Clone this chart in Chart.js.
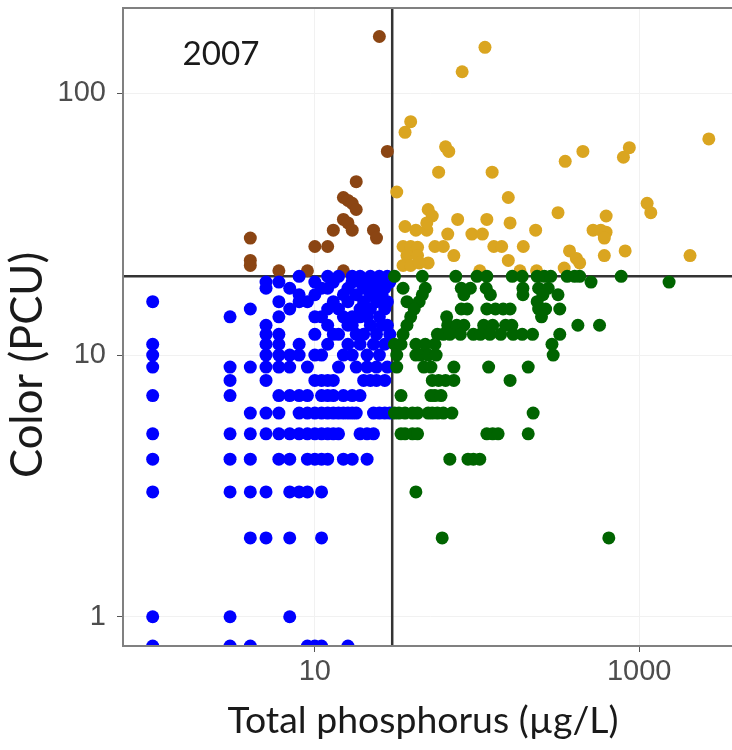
<!DOCTYPE html>
<html lang="en">
<head>
  <meta charset="UTF-8">
  <title>Colour vs Total phosphorus, 2007</title>
  <script src="https://cdn.jsdelivr.net/npm/chart.js"></script>
  <style>
    html, body {
      margin: 0;
      padding: 0;
      background: #fff;
      overflow: hidden;
    }
    #wrap {
      width: 745px;
      height: 750px;
    }
  </style>
</head>
<body>

  <div id="wrap">
    <canvas id="tpColorChart" width="745" height="750"></canvas>
  </div>

  <script>
    // axis setup (log10 on both axes)
    const xTickValues = [10, 1000];
    const yTickValues = [1, 10, 100];
    const xLimits = [0.656, 4100];
    const yLimits = [0.773, 212];
    const tpThreshold = 30;      // ug/L
    const colorThreshold = 20;   // PCU
    const panelLabel = '2007';

    // lakes as [total phosphorus, colour]; colour 0 sits on the axis floor
    const blueLakes = [
      [1,0],[3,0],[4,0],[9,0],[10,0],[11,0],[16,0],
      [1,1],[3,1],[7,1],
      [4,2],[5,2],[7,2],[11,2],
      [1,3],[3,3],[4,3],[5,3],[7,3],[8,3],[9,3],[11,3],
      [1,4],[3,4],[4,4],[6,4],[7,4],[9,4],[10,4],[11,4],[12,4],[15,4],[17,4],[21,4],
      [1,5],[3,5],[4,5],[5,5],[6,5],[7,5],[8,5],[9,5],[10,5],[11,5],[12,5],[13,5],[14,5],[19,5],[21,5],[23,5],
      [4,6],[5,6],[6,6],[8,6],[9,6],[10,6],[11,6],[12,6],[13,6],[14,6],[15,6],[16,6],[17,6],[18,6],[23,6],[25,6],[27,6],[29,6],
      [1,7],[3,7],[6,7],[7,7],[8,7],[9,7],[11,7],[12,7],[13,7],[15,7],[17,7],[19,7],
      [3,8],[5,8],[10,8],[11,8],[12,8],[13,8],[20,8],[22,8],[24,8],[27,8],
      [1,9],[3,9],[4,9],[5,9],[6,9],[7,9],[9,9],[14,9],[18,9],[21,9],[24,9],[28,9],
      [1,10],[5,10],[6,10],[7,10],[8,10],[10,10],[11,10],[15,10],[17,10],[21,10],[25,10],
      [1,11],[5,11],[6,11],[8,11],[12,11],[16,11],[19,11],[23,11],[27,11],
      [5,12],[6,12],[10,12],[13,12],[14,12],[18,12],[20,12],[24,12],[29,12],
      [5,13],[12,13],[16,13],[17,13],[22,13],[26,13],[28,13],
      [3,14],[6,14],[10,14],[11,14],[15,14],[17,14],[19,14],[21,14],[25,14],
      [4,15],[7,15],[12,15],[14,15],[19,15],[22,15],[27,15],
      [1,16],[6,16],[8,16],[9,16],[13,16],[16,16],[20,16],[24,16],[28,16],
      [8,17],[10,17],[15,17],[18,17],[22,17],[26,17],
      [5,18],[7,18],[11,18],[12,18],[16,18],[20,18],[23,18],[27,18],
      [5,19],[6,19],[10,19],[13,19],[17,19],[19,19],[21,19],[25,19],[29,19],
      [8,20],[12,20],[14,20],[17,20],[19,20],[22,20],[25,20],[28,20]
    ];

    const greenLakes = [
      [31,20],[46,20],[74,20],[100,20],[115,20],[165,20],[190,20],[235,20],[260,20],[285,20],[360,20],[400,20],[430,20],[775,20],
      [505,19],[1530,19],
      [35,18],[48,18],[80,18],[91,18],[114,18],[192,18],[240,18],[275,18],
      [46,17],[83,17],[121,17],[192,17],[255,17],[316,17],
      [37,16],[44,16],[235,16],
      [41,15],[80,15],[87,15],[115,15],[130,15],[145,15],[160,15],[240,15],[265,15],[324,15],
      [39,14],[65,14],[250,14],
      [37,13],[66,13],[75,13],[83,13],[110,13],[125,13],[150,13],[164,13],[419,13],[570,13],
      [35,12],[57,12],[62,12],[68,12],[79,12],[95,12],[105,12],[120,12],[140,12],[167,12],[190,12],[220,12],[324,12],
      [31,11],[34,11],[42,11],[48,11],[55,11],[290,11],
      [32,10],[42,10],[45,10],[50,10],[56,10],[295,10],
      [32,9],[47,9],[52,9],[72,9],[118,9],[207,9],
      [53,8],[58,8],[64,8],[72,8],[160,8],
      [34,7],[52,7],[55,7],[60,7],
      [31,6],[33,6],[36,6],[40,6],[43,6],[50,6],[53,6],[57,6],[62,6],[70,6],[222,6],
      [34,5],[36,5],[40,5],[43,5],[115,5],[125,5],[135,5],[207,5],
      [68,4],[88,4],[95,4],[104,4],
      [42,3],
      [61,2],[650,2]
    ];

    const brownLakes = [
      [25,165],[28,60],[18,46],[15,40],[16,39],[17,38],[18,36],[15,33],[16,32],
      [13,30],[17,30],[23,30],[24,28],[10,26],[12,26],[4,28],[4,23],[4,22],
      [6,21],[9,21],[15,21]
    ];

    const goldLakes = [
      [112,150],[81,121],[39,78],[36,71],[64,62.5],[67,60],[58,50],[124,50],[32,42],[156,40],
      [50,36],[53,34],[76,33],[115,33],[160,32],[316,35],[626,34],[1120,38],[1180,35],
      [36,31],[42,30],[49,30],[49,32],[66,29],[93,29],[108,29],[230,30],[520,30],[580,30],[625,29.5],[610,28],
      [35,26],[39,26],[43,25.8],[55,26],[62,26],[127,26],[142,26],[193,26],
      [72,24],[37,24],[43,24],[50,22.5],[156,23],[35,22],[39,22],[44,22.5],
      [104,21],[184,21],[233,21],[345,21.5],[372,25],[410,23.4],[430,22.5],[610,24],[820,25],[2060,24],
      [2690,67],[450,60],[350,55],[870,62],[800,57]
    ];

    const toPoints = lakes => lakes.map(([tp, color]) => ({ x: tp, y: color > 0 ? color : yLimits[0] }));

    function fittedSize(ctx, text, family, width) {
      ctx.font = `100px ${family}`;
      return 100 * width / ctx.measureText(text).width;
    }

    // reference lines under the points, panel frame and labels on top
    const quadrantLines = {
      id: 'quadrantLines',
      beforeDatasetsDraw(chart) {
        const { ctx, chartArea: a, scales } = chart;
        const xp = scales.x.getPixelForValue(tpThreshold);
        const yp = scales.y.getPixelForValue(colorThreshold);
        ctx.save();
        ctx.strokeStyle = '#333333';
        ctx.lineWidth = 2.5;
        ctx.beginPath();
        ctx.moveTo(xp, a.top);
        ctx.lineTo(xp, a.bottom);
        ctx.moveTo(a.left, yp);
        ctx.lineTo(a.right, yp);
        ctx.stroke();
        ctx.restore();
      },
      afterDraw(chart) {
        const { ctx, chartArea: a } = chart;
        ctx.save();
        ctx.strokeStyle = '#808080';
        ctx.lineWidth = 2;
        ctx.strokeRect(a.left, a.top, a.right - a.left, a.bottom - a.top);

        ctx.fillStyle = '#1a1a1a';
        ctx.textAlign = 'center';
        ctx.textBaseline = 'middle';
        const family = 'Lato, "Open Sans", sans-serif';

        ctx.font = `${fittedSize(ctx, panelLabel, family, 77).toFixed(1)}px ${family}`;
        ctx.fillText(panelLabel, 221, 54);

        const xTitle = 'Total phosphorus (µg/L)';
        ctx.font = `${fittedSize(ctx, xTitle, family, 391).toFixed(1)}px ${family}`;
        ctx.fillText(xTitle, 423, 721);

        const yTitle = 'Color (PCU)';
        ctx.font = `${fittedSize(ctx, yTitle, family, 226).toFixed(1)}px ${family}`;
        ctx.translate(28, 365);
        ctx.rotate(-Math.PI / 2);
        ctx.fillText(yTitle, 0, 0);
        ctx.restore();
      }
    };

    const tickFont = { family: '"Liberation Sans", Arial, sans-serif', size: 29 };

    const ctx = document.getElementById('tpColorChart').getContext('2d');
    new Chart(ctx, {
      type: 'scatter',
      data: {
        datasets: [
          { label: 'Low TP, low colour', data: toPoints(blueLakes), backgroundColor: '#0000ff', order: 2 },
          { label: 'High TP, low colour', data: toPoints(greenLakes), backgroundColor: '#006400', order: 1 },
          { label: 'Low TP, high colour', data: toPoints(brownLakes), backgroundColor: '#8b4513', order: 4 },
          { label: 'High TP, high colour', data: toPoints(goldLakes), backgroundColor: '#daa520', order: 3 }
        ]
      },
      options: {
        responsive: false,
        animation: false,
        devicePixelRatio: 1,
        clip: 0,
        layout: { padding: { left: 0, top: 8, right: 5, bottom: 0 } },
        elements: {
          point: { radius: 6.5, hoverRadius: 6.5, borderWidth: 0 }
        },
        plugins: {
          legend: { display: false },
          tooltip: { enabled: false }
        },
        scales: {
          x: {
            type: 'logarithmic',
            min: xLimits[0],
            max: xLimits[1],
            afterBuildTicks: axis => { axis.ticks = xTickValues.map(v => ({ value: v })); },
            afterFit: axis => {
              axis.height = 104;
              axis.paddingLeft = 0;
              axis.paddingRight = 0;
            },
            grid: { color: '#f1f1f1', lineWidth: 1, tickLength: 6, tickColor: '#555555' },
            border: { display: false },
            ticks: {
              color: '#4d4d4d',
              font: tickFont,
              padding: 3,
              maxRotation: 0,
              autoSkip: false,
              callback: v => String(v)
            }
          },
          y: {
            type: 'logarithmic',
            min: yLimits[0],
            max: yLimits[1],
            afterBuildTicks: axis => { axis.ticks = yTickValues.map(v => ({ value: v })); },
            afterFit: axis => {
              axis.width = 123;
              axis.paddingTop = 0;
              axis.paddingBottom = 0;
            },
            grid: { color: '#f1f1f1', lineWidth: 1, tickLength: 6, tickColor: '#555555' },
            border: { display: false },
            ticks: {
              color: '#4d4d4d',
              font: tickFont,
              padding: 11,
              autoSkip: false,
              callback: v => String(v)
            }
          }
        }
      },
      plugins: [quadrantLines]
    });
  </script>

</body>
</html>
